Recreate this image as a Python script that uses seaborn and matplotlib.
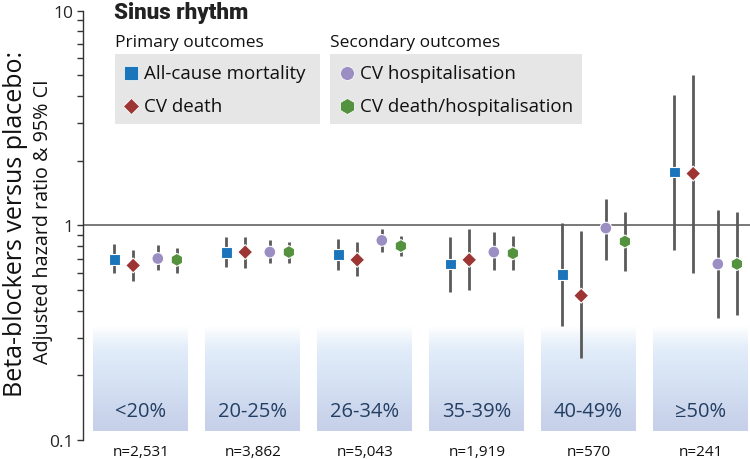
import numpy as np
import pandas as pd
import seaborn as sns
import matplotlib.pyplot as plt
from matplotlib.colors import LinearSegmentedColormap
from matplotlib.lines import Line2D
from matplotlib.patches import Rectangle
from matplotlib.ticker import FixedLocator, NullFormatter

# --- data ---
groups = ['<20%', '20-25%', '26-34%', '35-39%', '40-49%', '≥50%']
n_labels = ['n=2,531', 'n=3,862', 'n=5,043', 'n=1,919', 'n=570', 'n=241']
outcomes = ['All-cause mortality', 'CV death', 'CV hospitalisation', 'CV death/hospitalisation']

all_cause_hr = [0.69, 0.75, 0.73, 0.66, 0.59, 1.77]
all_cause_lo = [0.60, 0.64, 0.62, 0.49, 0.34, 0.77]
all_cause_hi = [0.82, 0.88, 0.86, 0.88, 1.02, 4.04]

cv_death_hr = [0.65, 0.75, 0.69, 0.69, 0.47, 1.74]
cv_death_lo = [0.55, 0.63, 0.58, 0.50, 0.24, 0.60]
cv_death_hi = [0.77, 0.88, 0.84, 0.96, 0.94, 5.00]

cv_hosp_hr = [0.70, 0.75, 0.85, 0.75, 0.97, 0.66]
cv_hosp_lo = [0.62, 0.67, 0.75, 0.62, 0.69, 0.37]
cv_hosp_hi = [0.81, 0.85, 0.96, 0.93, 1.33, 1.18]

cv_dh_hr = [0.69, 0.75, 0.80, 0.74, 0.84, 0.66]
cv_dh_lo = [0.60, 0.67, 0.72, 0.62, 0.61, 0.38]
cv_dh_hi = [0.78, 0.84, 0.89, 0.89, 1.15, 1.15]

colors = {'All-cause mortality': '#1a75bb', 'CV death': '#9c3533',
          'CV hospitalisation': '#9b8ec3', 'CV death/hospitalisation': '#55923f'}
markers = {'All-cause mortality': 's', 'CV death': 'D',
           'CV hospitalisation': 'o', 'CV death/hospitalisation': 'h'}
msizes = {'All-cause mortality': 62, 'CV death': 58,
          'CV hospitalisation': 72, 'CV death/hospitalisation': 88}
offsets = [-0.28, -0.11, 0.11, 0.28]

hr_lists = [all_cause_hr, cv_death_hr, cv_hosp_hr, cv_dh_hr]
lo_lists = [all_cause_lo, cv_death_lo, cv_hosp_lo, cv_dh_lo]
hi_lists = [all_cause_hi, cv_death_hi, cv_hosp_hi, cv_dh_hi]

rows = []
for k, name in enumerate(outcomes):
    for i, g in enumerate(groups):
        rows.append({'outcome': name, 'group': g, 'xpos': i + offsets[k],
                     'hr': hr_lists[k][i], 'lo': lo_lists[k][i], 'hi': hi_lists[k][i]})
df = pd.DataFrame(rows)

sns.set_style('white')
plt.rcParams['font.family'] = ['Open Sans', 'DejaVu Sans']

W, H = 750, 460
fig = plt.figure(figsize=(7.5, 4.6), dpi=100)
ax = fig.add_axes([83 / W, 1 - 441 / H, 1 - 83 / W, (441 - 11.5) / H])


def fx(px):
    return px / W


def fy(py):
    return 1 - py / H


# gradient panels behind each group (white at top, blue at bottom)
cmap = LinearSegmentedColormap.from_list('panel', ['#ffffff', '#e2edf9', '#d6e3f4', '#c6d0e9'])
grad = np.linspace(0, 1, 256).reshape(-1, 1)
for i, g in enumerate(groups):
    ax.imshow(grad, cmap=cmap, aspect='auto', origin='upper',
              extent=(i - 0.47, i + 0.385, 0.1096, 0.338), zorder=0)
    ax.text(i - 0.045, 0.137, g, ha='center', va='center', fontsize=14.5,
            color='#243f63', zorder=1)
    ax.text(i - 0.04, -0.026, n_labels[i], ha='center', va='center', fontsize=11,
            color='#111111', transform=ax.get_xaxis_transform(), clip_on=False)

ax.axhline(1, color='#555555', lw=1.1, zorder=1)

# confidence intervals then points
ax.vlines(df['xpos'], df['lo'], df['hi'], color='#5a5a5a', lw=2.0, zorder=2)
sns.scatterplot(data=df, x='xpos', y='hr', hue='outcome', style='outcome', size='outcome',
                palette=colors, markers=markers, sizes=msizes, edgecolor='white',
                linewidth=0.8, legend=False, ax=ax, zorder=3)

ax.set_yscale('log')
ax.set_ylim(0.1, 10)
ax.set_xlim(-0.558, 5.397)
ax.yaxis.set_major_locator(FixedLocator([0.1, 1, 10]))
ax.set_yticklabels(['0.1', '1', '10'])
ax.yaxis.set_minor_locator(FixedLocator([m * d for d in (0.1, 1) for m in range(2, 10)]))
ax.yaxis.set_minor_formatter(NullFormatter())
ax.tick_params(axis='y', which='major', left=True, length=4, width=1, color='#333333',
               labelsize=12.5, pad=3)
ax.tick_params(axis='y', which='minor', left=True, length=4, width=1, color='#333333')
ax.set_xticks([])
ax.set_xlabel('')
ax.set_ylabel('')
for side in ['top', 'right', 'bottom']:
    ax.spines[side].set_visible(False)
ax.spines['left'].set_color('#333333')
ax.spines['left'].set_linewidth(1)

# y axis label, two lines of different size
fig.text(fx(16), fy(224), 'Beta-blockers versus placebo:', rotation=90,
         ha='center', va='center', fontsize=18, color='#111111')
fig.text(fx(43), fy(222), 'Adjusted hazard ratio & 95% CI', rotation=90,
         ha='center', va='center', fontsize=14.2, color='#111111')

# legend block
fig.text(fx(114), fy(13), 'Sinus rhythm', ha='left', va='center', fontsize=16,
         fontweight='heavy', family=['Liberation Sans Narrow', 'DejaVu Sans Condensed', 'Roboto'],
         color='#222222')
fig.text(fx(115), fy(43), 'Primary outcomes', ha='left', va='center', fontsize=12.5,
         color='#111111')
fig.text(fx(330), fy(43), 'Secondary outcomes', ha='left', va='center', fontsize=12.5,
         color='#111111')
fig.patches.append(Rectangle((fx(115), fy(125)), fx(320) - fx(115), fy(55) - fy(125),
                             transform=fig.transFigure, facecolor='#e6e6e6',
                             edgecolor='none', zorder=0))
fig.patches.append(Rectangle((fx(330), fy(125)), fx(582) - fx(330), fy(55) - fy(125),
                             transform=fig.transFigure, facecolor='#e6e6e6',
                             edgecolor='none', zorder=0))
legend_pos = [(131, 74), (131, 107), (347, 74), (347, 107)]
legend_ms = [9.5, 8.5, 10, 11.5]
for name, (px, py), ms in zip(outcomes, legend_pos, legend_ms):
    fig.add_artist(Line2D([fx(px)], [fy(py)], transform=fig.transFigure,
                          marker=markers[name], color=colors[name], markersize=ms,
                          markeredgecolor='white', markeredgewidth=0.5, linestyle=''))
    fig.text(fx(px + 13), fy(py), name, ha='left', va='center', fontsize=13.5,
             color='#111111')

fig.savefig('out.png', dpi=100)
